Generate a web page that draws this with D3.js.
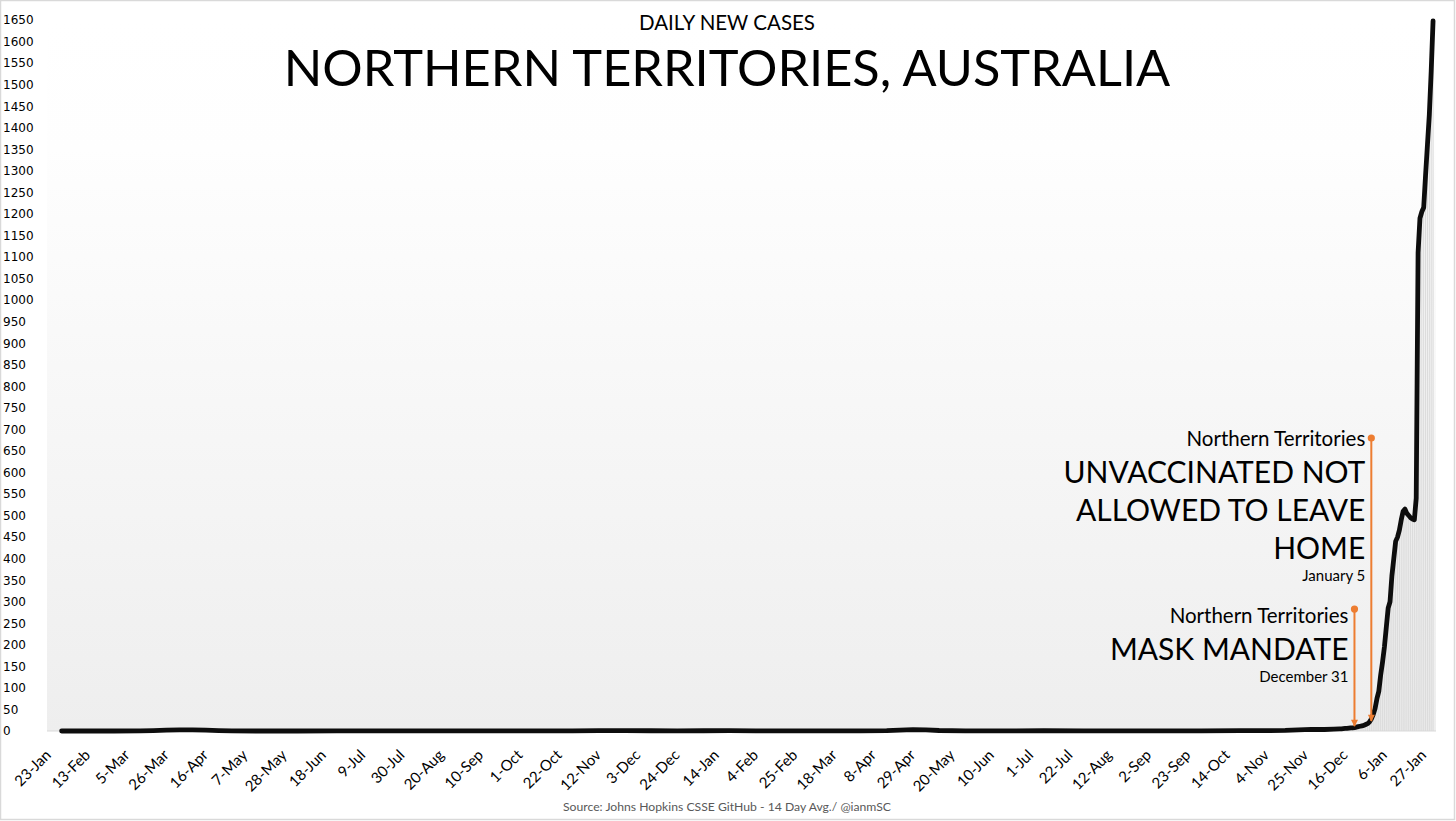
<!DOCTYPE html>
<html><head><meta charset="utf-8">
<script src="https://cdn.jsdelivr.net/npm/d3@7"></script>
<style>body{margin:0;background:#fff}svg{display:block}</style>
</head><body><svg id="c" width="1456" height="821"></svg>
<script>
// ---------- DATA ----------
const xTickLabels = ["23-Jan","13-Feb","5-Mar","26-Mar","16-Apr","7-May","28-May","18-Jun","9-Jul","30-Jul","20-Aug","10-Sep","1-Oct","22-Oct","12-Nov","3-Dec","24-Dec","14-Jan","4-Feb","25-Feb","18-Mar","8-Apr","29-Apr","20-May","10-Jun","1-Jul","22-Jul","12-Aug","2-Sep","23-Sep","14-Oct","4-Nov","25-Nov","16-Dec","6-Jan","27-Jan"];
const xTickStart = "2020-01-23";
const xTickStepDays = 21;
const yTickValues = [0,50,100,150,200,250,300,350,400,450,500,550,600,650,700,750,800,850,900,950,1000,1050,1100,1150,1200,1250,1300,1350,1400,1450,1500,1550,1600,1650];

// 14-day average, sparse points over the flat period
const flatDates = ["2020-01-26","2020-02-09","2020-02-23","2020-03-08","2020-03-15","2020-03-22","2020-03-29","2020-04-05","2020-04-12","2020-04-19","2020-04-26","2020-05-10","2020-05-31","2020-06-21","2020-07-12","2020-08-02","2020-08-23","2020-09-13","2020-10-04","2020-10-25","2020-11-08","2020-11-22","2020-12-06","2020-12-20","2021-01-03","2021-01-17","2021-01-31","2021-02-14","2021-03-07","2021-03-28","2021-04-11","2021-04-18","2021-04-25","2021-05-02","2021-05-09","2021-05-23","2021-06-13","2021-07-04","2021-07-25","2021-08-15","2021-09-05","2021-09-26","2021-10-17","2021-10-31","2021-11-10","2021-11-17","2021-11-24","2021-12-01","2021-12-06"];
const flatValues = [0,0,0,0.2,0.8,1.8,2.5,2.6,1.8,0.8,0.2,0,0,0.1,0.1,0.2,0.1,0.1,0.2,0.4,0.9,0.8,0.6,0.5,0.6,1.0,0.5,0.3,0.3,0.4,0.8,2.2,3.2,2.8,1.2,0.5,0.4,0.6,0.5,0.4,0.3,0.5,0.8,1.0,1.3,2.5,4,3.5,4.5];

// daily points of the surge, one per day starting at surgeStart
const surgeStart = "2021-12-09";
const surgeValues = [5,5,5.5,6,6,6.5,7,7.5,8,9,10,11,12,13,15,17,21,28,38,52,75,92,130,160,195,240,285,300,360,400,440,450,466,490,510,515,505,500,495,492,490,540,1110,1190,1205,1215,1290,1360,1430,1530,1648];

// annotations
const annotations = [
  {date:"2021-12-26", top:680, tip:21, textDrop:8, small:"Northern Territories", big:["UNVACCINATED NOT","ALLOWED TO LEAVE","HOME"], when:"January 5"},
  {date:"2021-12-17", top:283, tip:9, textDrop:14, small:"Northern Territories", big:["MASK MANDATE"], when:"December 31"}
];

// ---------- BUILD ----------
const parse = d3.utcParse("%Y-%m-%d");
const series = flatDates.map((d,i)=>({date:parse(d), value:flatValues[i]}))
  .concat(surgeValues.map((v,i)=>({date:d3.utcDay.offset(parse(surgeStart), i), value:v})));
const tickDates = xTickLabels.map((l,i)=>d3.utcDay.offset(parse(xTickStart), i*xTickStepDays));

const svg = d3.select("#c");
const W = 1456, H = 821;
const plot = {left:47, right:1436, top:20, bottom:731};
const FONT = "Lato, 'Open Sans', sans-serif";

const x = d3.scaleUtc().domain([tickDates[0], tickDates[tickDates.length-1]]).range([56, 56 + 735*1.871]);
const y = d3.scaleLinear().domain([0,1650]).range([plot.bottom, plot.top]);

// outer border
svg.append("rect").attr("x",0.5).attr("y",0.5).attr("width",W-2).attr("height",H-2)
  .attr("fill","#fff").attr("stroke","#d9d9d9").attr("stroke-width",1.5);

// gradient background
const defs = svg.append("defs");
const g = defs.append("linearGradient").attr("id","bg").attr("x1",0).attr("y1",0).attr("x2",0).attr("y2",1);
g.append("stop").attr("offset","0").attr("stop-color","#ffffff");
g.append("stop").attr("offset","0.18").attr("stop-color","#fefefe");
g.append("stop").attr("offset","1").attr("stop-color","#eeeeee");
svg.append("rect").attr("x",plot.left).attr("y",plot.top).attr("width",plot.right-plot.left)
  .attr("height",plot.bottom-plot.top).attr("fill","url(#bg)");

// arrow marker (tip along +x, oriented with the line)
defs.append("marker").attr("id","arr").attr("viewBox","0 0 10 10").attr("refX",9).attr("refY",5)
  .attr("markerWidth",4.5).attr("markerHeight",3.5).attr("orient","auto").attr("markerUnits","strokeWidth")
  .append("path").attr("d","M0,0 L10,5 L0,10 Z").attr("fill","#ED7D31");

// bars (light grey)
svg.append("g").selectAll("rect").data(series).join("rect")
  .attr("x", d=>x(d.date)-0.6).attr("width",1.2)
  .attr("y", d=>y(d.value)).attr("height", d=>plot.bottom - y(d.value))
  .attr("fill","#dcdcdc");

// axis line
svg.append("line").attr("x1",plot.left).attr("x2",plot.right).attr("y1",plot.bottom).attr("y2",plot.bottom)
  .attr("stroke","#d9d9d9").attr("stroke-width",1);

// y axis labels
svg.append("g").selectAll("text").data(yTickValues).join("text")
  .attr("x",3).attr("y",d=>y(d)).attr("dy","0.36em")
  .attr("font-family","'DejaVu Sans', Verdana, sans-serif").attr("font-size",12).attr("fill","#000")
  .text(d=>d);

// x axis labels
svg.append("g").selectAll("text").data(tickDates).join("text")
  .attr("transform", d=>`translate(${x(d)-4},756) rotate(-45)`)
  .attr("text-anchor","end")
  .attr("font-family",FONT).attr("font-size",15).attr("fill","#000")
  .text((d,i)=>xTickLabels[i]);

// line
const line = d3.line().x(d=>x(d.date)).y(d=>y(d.value)).curve(d3.curveLinear);
svg.append("path").datum(series).attr("d",line).attr("fill","none")
  .attr("stroke","#0d0d0d").attr("stroke-width",4.8).attr("stroke-linejoin","round").attr("stroke-linecap","round");

// annotations
annotations.forEach(a=>{
  const ax = x(parse(a.date));
  const yTop = y(a.top), yTip = y(a.tip);
  svg.append("line").attr("x1",ax).attr("x2",ax).attr("y1",yTop).attr("y2",yTip-1)
    .attr("stroke","#ED7D31").attr("stroke-width",2).attr("marker-end","url(#arr)");
  svg.append("circle").attr("cx",ax).attr("cy",yTop).attr("r",3.6).attr("fill","#ED7D31");
  const tx = ax - 6;
  const base = yTop + a.textDrop;
  const t = svg.append("g").attr("font-family",FONT).attr("text-anchor","end").attr("fill","#000");
  t.append("text").attr("x",tx).attr("y",base).attr("font-size",20.5).text(a.small);
  a.big.forEach((s,i)=>{
    t.append("text").attr("x",tx).attr("y",base+37+i*38).attr("font-size",30).text(s);
  });
  t.append("text").attr("x",tx).attr("y",base+37+(a.big.length-1)*38+22).attr("font-size",15).text(a.when);
});

// titles
svg.append("text").attr("x",727).attr("y",30).attr("text-anchor","middle")
  .attr("font-family",FONT).attr("font-size",20.5).text("DAILY NEW CASES");
svg.append("text").attr("x",727).attr("y",86).attr("text-anchor","middle")
  .attr("font-family",FONT).attr("font-size",50.5).text("NORTHERN TERRITORIES, AUSTRALIA");

// source
svg.append("text").attr("x",727).attr("y",811).attr("text-anchor","middle")
  .attr("font-family",FONT).attr("font-size",12.2).attr("fill","#595959")
  .text("Source: Johns Hopkins CSSE GitHub - 14 Day Avg./ @ianmSC");
</script></body></html>
